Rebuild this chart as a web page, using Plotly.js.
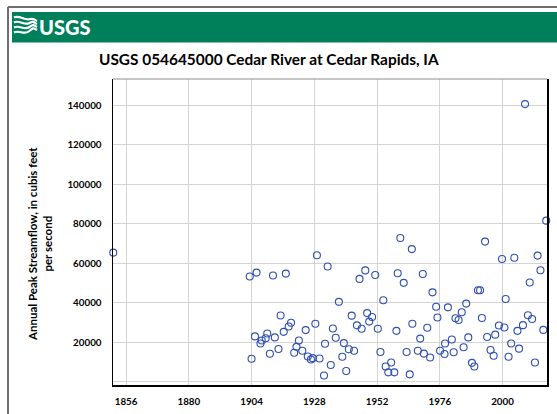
<!DOCTYPE html>
<html>
<head>
<meta charset="utf-8">
<script src="https://cdn.plot.ly/plotly-3.0.1.min.js"></script>
<style>
  html, body { margin: 0; padding: 0; background: #fff; }
  #chart { width: 557px; height: 414px; }
</style>
</head>
<body>
<div id="chart"></div>
<script>
// Annual peak streamflow, Cedar River at Cedar Rapids
var years = [1851.1, 1903.3, 1904.0, 1905.3, 1905.9, 1907.4, 1907.9, 1909.4, 1910.0, 1911.0,
    1912.2, 1912.9, 1914.3, 1915.1, 1916.3, 1917.1, 1918.2, 1919.1, 1920.3, 1921.2,
    1922.1, 1923.4, 1924.7, 1925.5, 1926.7, 1927.4, 1928.4, 1929.0, 1930.0, 1931.7,
    1932.1, 1933.1, 1934.3, 1935.1, 1936.2, 1937.4, 1938.7, 1939.3, 1940.2, 1941.2,
    1942.3, 1943.2, 1944.3, 1945.3, 1946.1, 1947.5, 1948.2, 1949.0, 1950.1, 1951.3,
    1952.3, 1953.3, 1954.4, 1955.3, 1956.3, 1957.4, 1958.6, 1959.4, 1959.9, 1960.9,
    1962.2, 1963.3, 1964.5, 1965.3, 1965.5, 1967.6, 1968.5, 1969.5, 1969.9, 1971.2,
    1972.3, 1973.2, 1974.6, 1975.1, 1976.1, 1977.8, 1978.0, 1979.1, 1980.6, 1981.3,
    1982.0, 1983.2, 1984.4, 1985.1, 1986.1, 1986.9, 1988.3, 1989.2, 1990.6, 1991.4,
    1992.1, 1993.3, 1994.1, 1995.4, 1996.6, 1997.2, 1998.6, 1999.8, 2000.7, 2001.2,
    2002.3, 2003.3, 2004.5, 2005.7, 2006.3, 2007.8, 2008.6, 2009.7, 2010.4, 2011.3,
    2012.4, 2013.4, 2014.5, 2015.6, 2016.7];

var peaks = [65300, 53200, 11600, 22900, 55200, 19300, 20800, 22000, 24400, 14100,
    53700, 22400, 16500, 33500, 25200, 54700, 27900, 29800, 14600, 17600,
    20800, 15600, 26100, 12700, 11200, 11900, 29300, 64000, 11700, 3100,
    19200, 58300, 8400, 26900, 22200, 40400, 12600, 19500, 5400, 16400,
    33400, 15600, 28500, 52000, 26800, 56300, 34700, 30400, 32700, 54000,
    26800, 15000, 41200, 7700, 4700, 9700, 4700, 25700, 54900, 72700,
    50000, 15000, 3700, 67100, 29300, 15600, 21800, 54500, 14200, 27300,
    12200, 45200, 37900, 32500, 15600, 14000, 19300, 37600, 21300, 14900,
    32100, 31200, 35100, 17400, 39500, 22400, 9500, 7700, 46300, 46300,
    32200, 70900, 22600, 16000, 13100, 23800, 28400, 62100, 27400, 41800,
    12600, 19300, 62700, 25700, 16700, 28600, 140500, 33600, 50200, 31700,
    9700, 63800, 56400, 26200, 81500];

var yTicks = [0, 20000, 40000, 60000, 80000, 100000, 120000, 140000];
var yTickText = ['', '20000', '40000', '60000', '80000', '100000', '120000', '140000'];

var chartTitle = 'USGS 054645000 Cedar River at Cedar Rapids, IA';
var yTitle = 'Annual Peak Streamflow, in cubis feet<br>per second';

// page geometry (pixels) -> paper coords for decoration
var W = 557, H = 414;
var M = {l: 113, r: 10, t: 79, b: 29, pad: 0};
var pw = W - M.l - M.r, ph = H - M.t - M.b;
function px(x) { return (x - M.l) / pw; }
function py(y) { return (H - M.b - y) / ph; }

var face = 'Lato, "Open Sans", sans-serif';
var green = '#00805a';

function wave(y0, y1) {
    var pts = [[14, y0], [19, y0 - 3], [24, y0 + 3], [29, (y0 + y1) / 2], [33, y1 - 2], [37, y1]];
    var d = 'M' + px(pts[0][0]) + ',' + py(pts[0][1]);
    d += ' C' + px(pts[1][0]) + ',' + py(pts[1][1]) + ' ' + px(pts[2][0]) + ',' + py(pts[2][1]) + ' ' + px(pts[3][0]) + ',' + py(pts[3][1]);
    d += ' S' + px(pts[4][0]) + ',' + py(pts[4][1]) + ' ' + px(pts[5][0]) + ',' + py(pts[5][1]);
    return {type: 'path', xref: 'paper', yref: 'paper', path: d,
        line: {color: '#fff', width: 2.2}, layer: 'above'};
}

var shapes = [
    // outer frame
    {type: 'line', xref: 'paper', yref: 'paper', x0: px(8), x1: px(8), y0: py(7), y1: py(414),
        line: {color: '#6e6e6e', width: 2}},
    {type: 'line', xref: 'paper', yref: 'paper', x0: px(8), x1: px(557), y0: py(7), y1: py(7),
        line: {color: '#6e6e6e', width: 2}},
    // green banner
    {type: 'rect', xref: 'paper', yref: 'paper', x0: px(12), x1: px(557), y0: py(12), y1: py(42.5),
        fillcolor: green, line: {width: 0}},
    // plot top border
    {type: 'line', xref: 'paper', yref: 'paper', x0: 0, x1: 1, y0: 1, y1: 1,
        line: {color: '#8c8c8c', width: 1.2}}
];
[17.5, 22.5, 27.5, 32.5].forEach(function(y, i) {
    shapes.push(wave(y, 21 + i * 3));
});

var trace = {
    x: years,
    y: peaks,
    type: 'scatter',
    mode: 'markers',
    marker: {symbol: 'circle-open', size: 7, color: '#2f4fae', line: {width: 1.1, color: '#2f4fae'}},
    cliponaxis: false,
    hoverinfo: 'x+y'
};

var layout = {
    width: W,
    height: H,
    margin: M,
    paper_bgcolor: '#fff',
    plot_bgcolor: '#fff',
    showlegend: false,
    font: {family: face, color: '#000'},
    xaxis: {
        range: [1851, 2017],
        tick0: 1856,
        dtick: 24,
        tickformat: 'd',
        showgrid: true,
        gridcolor: '#d4d4d4',
        gridwidth: 1,
        zeroline: false,
        showline: true,
        linecolor: '#000',
        linewidth: 1.5,
        ticks: '',
        ticklabelstandoff: 7,
        tickfont: {family: face, size: 9.8, color: '#000', weight: 'bold'}
    },
    yaxis: {
        range: [-1700, 153200],
        tickvals: yTicks,
        ticktext: yTickText,
        showgrid: true,
        gridcolor: '#d4d4d4',
        gridwidth: 1,
        zeroline: false,
        showline: true,
        mirror: true,
        linecolor: '#000',
        linewidth: 1.5,
        ticks: '',
        ticklabelstandoff: 8,
        tickfont: {family: face, size: 9.8, color: '#000', weight: 'bold'}
    },
    shapes: shapes,
    annotations: [
        {text: 'USGS', xref: 'paper', yref: 'paper', x: px(37), y: py(27.5), xanchor: 'left', yanchor: 'middle',
            showarrow: false, font: {family: face, size: 20, color: '#fff', weight: 900}},
        {text: chartTitle, xref: 'paper', yref: 'paper', x: px(269), y: py(58.5), xanchor: 'center', yanchor: 'middle',
            showarrow: false, font: {family: face, size: 15.4, color: '#000', weight: 'bold'}},
        {text: yTitle, xref: 'paper', yref: 'paper', x: px(40), y: py(244), xanchor: 'center', yanchor: 'middle',
            textangle: -90, showarrow: false, align: 'center',
            font: {family: face, size: 11.5, color: '#000', weight: 'bold'}}
    ]
};

Plotly.newPlot('chart', [trace], layout, {displayModeBar: false, staticPlot: true});
</script>
</body>
</html>
